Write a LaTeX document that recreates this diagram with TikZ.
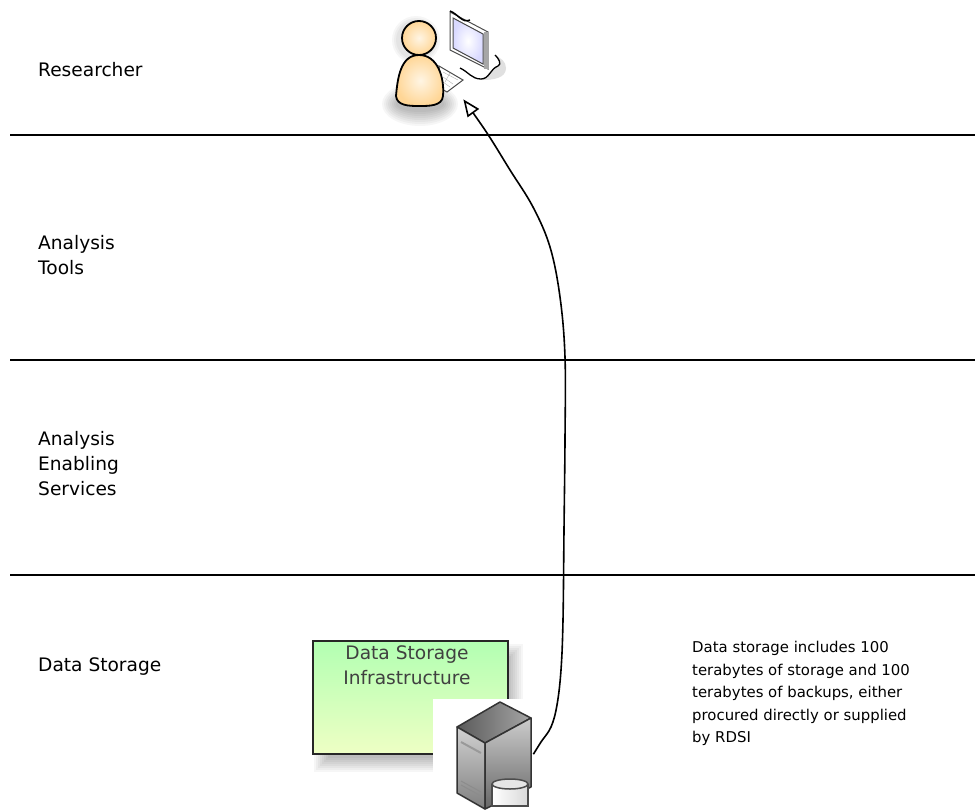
\documentclass[tikz,border=0pt]{standalone}
\usepackage{fontspec}
\setmainfont{DejaVu Sans}
\usetikzlibrary{arrows.meta}
\tikzset{
  bandline/.style = {line width = 1.5pt, black},
  bandlabel/.style = {anchor = north west, align = left, inner sep = 0pt, font = \fontsize{18.6}{25}\selectfont},
  notelabel/.style = {anchor = north west, align = left, inner sep = 0pt, font = \fontsize{14.9}{22.5}\selectfont},
  softshadow/.style = {fill = black, fill opacity = 0.035, draw = none},
  iconline/.style = {draw = black, line width = 1.8pt, line join = round},
  serverline/.style = {draw = black!80, line width = 1.5pt, line join = round}
}
\definecolor{boxtop}{RGB}{178, 255, 178}
\definecolor{boxbottom}{RGB}{238, 255, 196}
\definecolor{skinin}{RGB}{255, 245, 228}
\definecolor{skinout}{RGB}{255, 214, 150}
\begin{document}
\begin{tikzpicture} [x = 1pt, y = -1pt]
\useasboundingbox (0, 0) rectangle (975, 809);
\fill[white] (0, 0) rectangle (975, 809);
% bands
\coordinate (lineA) at (10, 135);
\coordinate (lineAend) at (975, 135);
\coordinate (lineB) at (10, 360);
\coordinate (lineBend) at (975, 360);
\coordinate (lineC) at (10, 575);
\coordinate (lineCend) at (975, 575);
\draw[bandline] (lineA) -- (lineAend);
\draw[bandline] (lineB) -- (lineBend);
\draw[bandline] (lineC) -- (lineCend);
\node[bandlabel] (researcherlabel) at (38, 62){Researcher};
\node[bandlabel] (toolslabel) at (38, 235){Analysis\\Tools};
\node[bandlabel] (serviceslabel) at (38, 431.5){Analysis\\Enabling\\Services};
\node[bandlabel] (storagelabel) at (38, 657){Data Storage};
\node[notelabel] (storagenote) at (692, 641){Data storage includes 100\\terabytes of storage and 100\\terabytes of backups, either\\procured directly or supplied\\by RDSI};
% infrastructure box
\foreach \s in {0, 2, 4, 6, 8, 10, 12, 14}
  \fill[softshadow] (314 + \s, 644 + \s) rectangle (523 - \s, 772 - \s);
\node[draw = black!85, line width = 1.5pt, top color = boxtop, bottom color = boxbottom, minimum width = 195pt, minimum height = 113pt, anchor = north west, inner sep = 0pt] (infrabox) at (312, 640){};
\node[anchor = north, align = center, inner sep = 0pt, text = black!75, font = \fontsize{18.6}{25}\selectfont] (infralabel) at (407, 645){Data Storage\\Infrastructure};
% server
\node[fill = white, minimum width = 100pt, minimum height = 110pt, anchor = north west, inner sep = 0pt] (server) at (433, 699){};
\draw[serverline, left color = black!65, right color = black!35] (500, 702) -- (531, 718) -- (485, 743) -- (457, 727) -- cycle;
\draw[serverline, top color = black!18, bottom color = black!50] (457, 727) -- (485, 743) -- (485, 809) -- (457, 793) -- cycle;
\draw[serverline, top color = black!20, bottom color = black!60] (485, 743) -- (531, 718) -- (531, 787) -- (485, 809) -- cycle;
\draw[black!40, line width = 2pt] (461, 742) -- (481, 753);
\draw[black!45, line width = 1pt] (461, 781) -- (481, 792) (461, 785) -- (481, 796);
\draw[draw = black!70, line width = 1.5pt, left color = white, right color = black!15] (492, 784) -- (492, 806) -- (528, 806) -- (528, 784);
\draw[draw = black!70, line width = 1.5pt, fill = black!10] (510, 784) ellipse ({18} and {5});
% researcher icon
\node[minimum width = 78pt, minimum height = 89pt, anchor = north west, inner sep = 0pt] (researcher) at (385, 10){};
\foreach \s in {0, 2, 4, 6, 8, 10, 12, 14}
  \fill[softshadow] (420, 104) ellipse ({38 - \s} and {22 - \s});
\foreach \s in {0, 2, 4}
  \fill[softshadow] (416, 40) circle ({24 - \s});
\fill[black!12] (495, 55) to [out = -30, in = 90] (506, 68) to [out = -90, in = 0] (482, 80) -- (470, 70) -- cycle;
\draw[draw = black, line width = 1.3pt, fill = white] (495, 55) to [out = -40, in = 20] (498, 66) to [out = 200, in = 0] (481, 79) to [out = 180, in = -25] (460, 68);
\draw[draw = black!70, line width = 1pt, fill = white] (439, 66) -- (463, 80) -- (447, 92) -- (440, 88) -- cycle;
\draw[black!30] (443, 72) -- (458, 80) (443, 77) -- (453, 84) (443, 82) -- (450, 87) (450, 73) -- (445, 82);
\draw[draw = black!70, line width = 1pt, fill = white] (450, 12) -- (488, 32) -- (488, 69) -- (450, 50) -- cycle;
\draw[black, line width = 1.5pt] (450, 11) to [out = -20, in = 205] (470, 20);
\fill[inner color = white, outer color = blue!15] (453, 18) -- (483, 34) -- (483, 64) -- (453, 48) -- cycle;
\draw[black!70, line width = 1pt] (453, 18) -- (483, 34) -- (483, 64) -- (453, 48) -- cycle;
\fill[black!35] (484, 32) rectangle (489, 69);
\draw[iconline, inner color = skinin, outer color = skinout] (419, 55) to [out = 180, in = 85] (396, 96) to [out = -85, in = 180] (419, 106) to [out = 0, in = -95] (443, 96) to [out = 85, in = 0] (419, 55);
\draw[iconline, inner color = skinin, outer color = skinout] (419, 38) circle (17);
% connector
\draw[line width = 1.6pt, -{Triangle[fill = white, length = 17pt, width = 14pt]}] plot[smooth, tension = 0.6] coordinates {(server.east) (541, 742) (551, 727) (557, 705) (561, 670) (563, 620) (564, 530) (565, 440) (565, 357) (560, 297) (550, 247) (533, 207) (510, 170) (487, 133) (researcher.south east)};
\end{tikzpicture}
\end{document}
